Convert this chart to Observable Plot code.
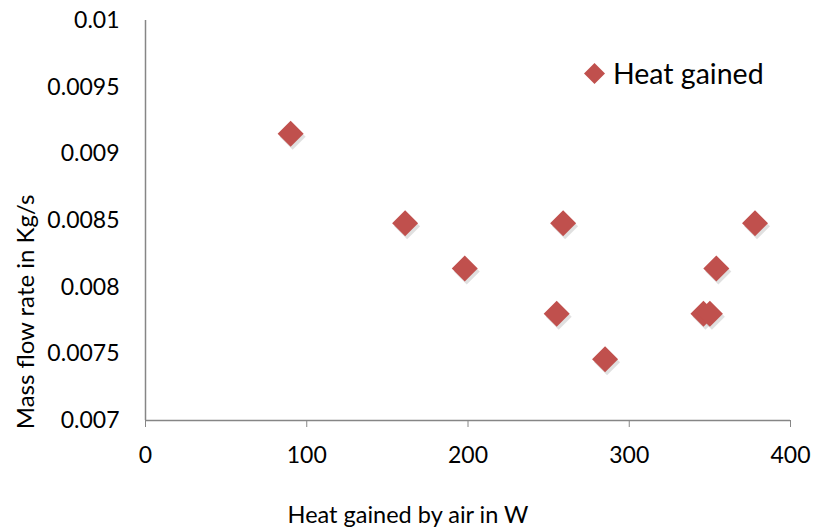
<!DOCTYPE html>
<html>
<head>
<meta charset="utf-8">
<script src="https://cdn.jsdelivr.net/npm/d3@7"></script>
<script src="https://cdn.jsdelivr.net/npm/@observablehq/plot@0.6"></script>
<style>
  html, body { margin: 0; padding: 0; background: #fff; }
  #wrap { position: relative; width: 813px; height: 529px; overflow: hidden; font-family: Lato, "Open Sans", sans-serif; }
  #legend { position: absolute; left: 583px; top: 54px; display: flex; align-items: center; font-size: 28.5px; line-height: 38px; color: #000; }
  #legend svg { margin-right: 7px; }
  #ytitle { position: absolute; left: 25px; top: 312px; transform: translate(-50%, -50%) rotate(-90deg); white-space: nowrap; font-size: 24px; line-height: 1; color: #000; }
</style>
</head>
<body>
<div id="wrap">
  <div id="chart"></div>
  <div id="ytitle"></div>
  <div id="legend"><svg width="23" height="23" viewBox="-11.5 -11.5 23 23"><path d="M0,-10.5L10.5,0L0,10.5L-10.5,0Z" fill="#C0504D"/></svg><span id="legendLabel"></span></div>
</div>
<script>
const seriesName = "Heat gained";
const heatGained = [90, 161, 198, 255, 259, 285, 346, 350, 354, 378];
const massFlow = [0.00915, 0.00848, 0.00814, 0.0078, 0.00848, 0.00746, 0.0078, 0.0078, 0.00814, 0.00848];
const xTicks = [0, 100, 200, 300, 400];
const yTicks = [0.007, 0.0075, 0.008, 0.0085, 0.009, 0.0095, 0.01];
const yTickLabels = ["0.007", "0.0075", "0.008", "0.0085", "0.009", "0.0095", "0.01"];
const xTitle = "Heat gained by air in W";
const yTitle = "Mass flow rate in Kg/s";

const data = heatGained.map((h, i) => ({heat: h, mass: massFlow[i]}));
const color = "#C0504D";
const axisColor = "#868686";

const chart = Plot.plot({
  width: 813,
  height: 529,
  marginLeft: 145,
  marginRight: 23,
  marginTop: 20,
  marginBottom: 109,
  style: {fontFamily: "Lato, 'Open Sans', sans-serif", fontSize: "23px", color: "#000", background: "#fff"},
  x: {domain: [0, 400]},
  y: {domain: [0.007, 0.01]},
  marks: [
    Plot.axisX({ticks: xTicks, tickSize: 7, tickPadding: 19, stroke: axisColor, tickFormat: d => String(d), label: null, fill: "#000"}),
    Plot.axisY({ticks: yTicks, tickSize: 0, tickPadding: 26, tickFormat: (d, i) => yTickLabels[i], label: null, fill: "#000"}),
    Plot.text([xTitle], {text: d => d, frameAnchor: "bottom", dy: 102, dx: -60, lineAnchor: "bottom", fill: "#000", fontSize: 23.5}),
    Plot.ruleY([0.007], {stroke: axisColor, strokeWidth: 1.5}),
    Plot.ruleX([0], {stroke: axisColor, strokeWidth: 1.5}),
    Plot.dot(data, {x: "heat", y: "mass", symbol: "diamond2", r: 11.7, fill: "#000", fillOpacity: 0.12, dx: 2, dy: 3, stroke: "none"}),
    Plot.dot(data, {x: "heat", y: "mass", symbol: "diamond2", r: 11.7, fill: color, stroke: "none", title: d => seriesName})
  ]
});
document.getElementById("chart").appendChild(chart);
document.getElementById("ytitle").textContent = yTitle;
document.getElementById("legendLabel").textContent = seriesName;
</script>
</body>
</html>
